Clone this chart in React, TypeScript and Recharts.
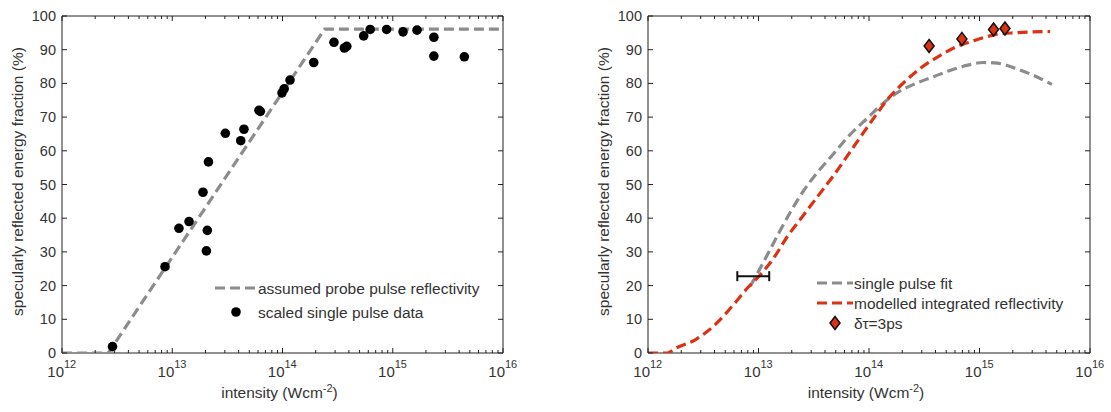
import React from 'react';
import { ComposedChart, Line, Scatter, XAxis, YAxis, ReferenceArea, ErrorBar, Legend } from 'recharts';

const FONT = '"Liberation Sans", Arial, sans-serif';
const TEXT = '#333';
const FRAME = '#222';
const GRAY = '#8c8c8c';
const RED = '#dc3214';

// ---------- left panel data ----------
const assumedX = [1e12, 2.63e12, 2.41e14, 1e16];
const assumedY = [0, 0, 96.1, 96.1];
const singleX = [2.87e12, 8.6e12, 1.15e13, 1.42e13, 1.9e13, 2.04e13, 2.08e13, 2.13e13, 3.03e13, 4.18e13, 4.47e13, 6.12e13, 6.3e13, 9.9e13, 1.035e14, 1.17e14, 1.92e14, 2.93e14, 3.64e14, 3.83e14, 5.45e14, 6.24e14, 8.8e14, 1.24e15, 1.66e15, 2.36e15, 2.36e15, 4.46e15];
const singleY = [1.9, 25.6, 37.0, 39.0, 47.7, 30.3, 36.4, 56.7, 65.2, 63.0, 66.4, 72.0, 71.7, 77.2, 78.4, 81.0, 86.2, 92.2, 90.5, 91.0, 94.1, 96.0, 96.0, 95.3, 95.8, 93.7, 88.1, 87.9];
const leftLegendOrder = ['assumed probe pulse reflectivity', 'scaled single pulse data'];

// ---------- right panel data ----------
const fitX = [8.43e12, 1.01e13, 1.22e13, 1.52e13, 1.96e13, 2.54e13, 3.4e13, 4.74e13, 6.61e13, 9.53e13, 1.33e14, 1.85e14, 2.67e14, 3.85e14, 5.56e14, 8.04e14, 1.08e15, 1.45e15, 2.09e15, 3.02e15, 4.52e15];
const fitY = [19.8, 24.5, 29.5, 35.5, 42.0, 48.0, 53.5, 59.0, 64.5, 69.5, 74.0, 77.5, 80.0, 82.0, 84.0, 85.5, 86.2, 86.0, 84.5, 82.5, 79.7];
const modelX = [1e12, 1.5e12, 1.8e12, 2.7e12, 4.05e12, 5.93e12, 7.94e12, 1.04e13, 1.36e13, 1.82e13, 2.5e13, 3.53e13, 4.74e13, 6.37e13, 8.53e13, 1.12e14, 1.54e14, 2.14e14, 2.98e14, 4.31e14, 6.21e14, 9.31e14, 1.36e15, 2.01e15, 4.36e15];
const modelY = [0, 0, 1.5, 4.0, 8.4, 14.3, 19.3, 23.2, 28.0, 34.5, 40.5, 47.0, 52.5, 58.5, 64.5, 70.0, 76.0, 80.7, 84.7, 88.1, 90.9, 92.9, 94.4, 95.0, 95.4];
const diamondX = [3.5e14, 6.93e14, 1.34e15, 1.7e15];
const diamondY = [91.1, 93.2, 96.0, 96.3];
const errCenterX = [8.98e12];
const errCenterY = [22.8];
const errLow = [2.55e12];
const errHigh = [3.52e12];
const rightLegendOrder = ['single pulse fit', 'modelled integrated reflectivity', 'δτ=3ps'];

// ---------- axes ----------
const xMajorTicks = [1e12, 1e13, 1e14, 1e15, 1e16];
const xMinorMultipliers = [2, 3, 4, 5, 6, 7, 8, 9];
const yTicks = [0, 10, 20, 30, 40, 50, 60, 70, 80, 90, 100];
const yLabel = 'specularly reflected energy fraction (%)';
const xLabelMain = 'intensity (Wcm';
const xLabelExp = '-2';

const xTicks: number[] = [];
xMajorTicks.forEach((m, i) => {
  xTicks.push(m);
  if (i < xMajorTicks.length - 1) xMinorMultipliers.forEach((k) => xTicks.push(m * k));
});

const zip = (xs: number[], ys: number[]) => xs.map((x, i) => ({ x, y: ys[i] }));
const assumedData = zip(assumedX, assumedY);
const singleData = zip(singleX, singleY);
const fitData = zip(fitX, fitY);
const modelData = zip(modelX, modelY);
const diamondData = zip(diamondX, diamondY);
const errData = errCenterX.map((x, i) => ({ x, y: errCenterY[i], ex: [errLow[i], errHigh[i]] }));

const PLOT_H = 337;
const LABEL_SIZE = 15.5;

const makeXTick = (plotH: number) => (props: any) => {
  const { x, y, payload } = props;
  const v = payload.value;
  const lg = Math.log10(v);
  const major = Math.abs(lg - Math.round(lg)) < 1e-6;
  const len = major ? 5 : 3;
  return (
    <g>
      <line x1={x} x2={x} y1={y} y2={y - len} stroke={FRAME} strokeWidth={1} />
      <line x1={x} x2={x} y1={y - plotH} y2={y - plotH + len} stroke={FRAME} strokeWidth={1} />
      {major && (
        <text x={x + 2} y={y + 24} textAnchor="end" fontSize={15} fill={TEXT} fontFamily={FONT}>10</text>
      )}
      {major && (
        <text x={x + 2} y={y + 15} textAnchor="start" fontSize={11} fill={TEXT} fontFamily={FONT}>{Math.round(lg)}</text>
      )}
    </g>
  );
};

const makeYTick = (plotW: number) => (props: any) => {
  const { x, y, payload } = props;
  return (
    <g>
      <line x1={x} x2={x + 5} y1={y} y2={y} stroke={FRAME} strokeWidth={1} />
      <line x1={x + plotW} x2={x + plotW - 5} y1={y} y2={y} stroke={FRAME} strokeWidth={1} />
      <text x={x - 6} y={y + 5} textAnchor="end" fontSize={14.5} fill={TEXT} fontFamily={FONT}>{payload.value}</text>
    </g>
  );
};

const YLabel = (props: any) => {
  const vb = props.viewBox;
  const cx = vb.x + vb.width - 45;
  const cy = vb.y + vb.height / 2 - 3;
  return (
    <text x={cx} y={cy} transform={`rotate(-90 ${cx} ${cy})`} textAnchor="middle" dominantBaseline="central" fontSize={LABEL_SIZE} fill={TEXT} fontFamily={FONT}>
      {yLabel}
    </text>
  );
};

const XLabel = (props: any) => {
  const vb = props.viewBox;
  const cx = vb.x + vb.width / 2 - 3;
  return (
    <text x={cx} y={vb.y + 45} textAnchor="middle" fontSize={LABEL_SIZE} fill={TEXT} fontFamily={FONT}>
      {xLabelMain}
      <tspan dy={-6} fontSize={11}>{xLabelExp}</tspan>
      <tspan dy={6}>)</tspan>
    </text>
  );
};

const Diamond = (props: any) => {
  const { cx, cy } = props;
  if (cx == null || cy == null) return <g />;
  return (
    <polygon
      points={`${cx},${cy - 6.5} ${cx + 5},${cy} ${cx},${cy + 6.5} ${cx - 5},${cy}`}
      fill={RED}
      stroke="#111"
      strokeWidth={1.5}
    />
  );
};

const Dot = (props: any) => {
  const { cx, cy } = props;
  if (cx == null || cy == null) return <g />;
  return <circle cx={cx} cy={cy} r={4.8} fill="#000" />;
};

const Invisible = () => <g />;

const makeLegend = (order: string[], rowH: number, iconW: number, w: number) => (props: any) => {
  const payload = (props.payload || [])
    .filter((p: any) => p.type !== 'none')
    .slice()
    .sort((a: any, b: any) => order.indexOf(a.value) - order.indexOf(b.value));
  return (
    <svg width={w} height={rowH * payload.length} style={{ display: 'block', overflow: 'visible' }}>
      {payload.map((p: any, i: number) => {
        const cy = rowH * i + rowH / 2;
        let icon: React.ReactNode = null;
        if (p.type === 'line') {
          icon = <line x1={3} x2={3 + iconW} y1={cy} y2={cy} stroke={p.color} strokeWidth={3.2} strokeDasharray="10 5" />;
        } else if (p.type === 'circle') {
          icon = <circle cx={3 + iconW / 2} cy={cy} r={4.8} fill="#000" />;
        } else if (p.type === 'diamond') {
          const cx = 3 + iconW / 2;
          icon = (
            <polygon points={`${cx},${cy - 6.5} ${cx + 5},${cy} ${cx},${cy + 6.5} ${cx - 5},${cy}`} fill={RED} stroke="#111" strokeWidth={1.5} />
          );
        }
        return (
          <g key={i}>
            {icon}
            <text x={3 + iconW + 1} y={cy + 5.5} fontSize={LABEL_SIZE} fill={TEXT} fontFamily={FONT}>{p.value}</text>
          </g>
        );
      })}
    </svg>
  );
};

export default function App() {
  const leftW = 560;
  const rightW = 551;
  const H = 412;
  const leftMargin = { top: 16, left: 0, right: 57, bottom: 0 };
  const rightMargin = { top: 16, left: 0, right: 21, bottom: 0 };
  const leftYW = 62;
  const rightYW = 88;
  const xAxisH = 59;
  const leftPlotW = leftW - leftYW - leftMargin.right;
  const rightPlotW = rightW - rightYW - rightMargin.right;

  const axisCommon = {
    type: 'number' as const,
    dataKey: 'x',
    scale: 'log' as const,
    domain: [1e12, 1e16],
    allowDataOverflow: true,
    ticks: xTicks,
    interval: 0 as const,
    tickSize: 0,
    tickMargin: 0,
    tickLine: false,
    axisLine: false,
    height: xAxisH,
  };
  const yCommon = {
    type: 'number' as const,
    domain: [0, 100],
    allowDataOverflow: true,
    ticks: yTicks,
    interval: 0 as const,
    tickSize: 0,
    tickMargin: 0,
    tickLine: false,
    axisLine: false,
  };

  return (
    <div style={{ position: 'absolute', left: 0, top: 0, width: 1111, height: 412, background: '#fff', fontFamily: FONT }}>
      <div style={{ position: 'absolute', left: 0, top: 0 }}>
        <ComposedChart width={leftW} height={H} margin={leftMargin}>
          <XAxis {...axisCommon} tick={makeXTick(PLOT_H)} label={{ content: XLabel } as any} />
          <YAxis {...yCommon} width={leftYW} tick={makeYTick(leftPlotW)} label={{ content: YLabel } as any} />
          <ReferenceArea x1={1e12} x2={1e16} y1={0} y2={100} fill="none" fillOpacity={0} stroke={FRAME} strokeWidth={1} ifOverflow="visible" />
          <Line data={assumedData} dataKey="y" name="assumed probe pulse reflectivity" type="linear" stroke={GRAY} strokeWidth={3.2} strokeDasharray="10 5" dot={false} activeDot={false} legendType="line" isAnimationActive={false} />
          <Scatter data={singleData} dataKey="y" name="scaled single pulse data" fill="#000" shape={Dot} legendType="circle" isAnimationActive={false} />
          <Legend
            layout="vertical"
            align="center"
            verticalAlign="middle"
            content={makeLegend(leftLegendOrder, 24, 42, 300)}
            wrapperStyle={{ left: 212, top: 276, width: 300, height: 48 }}
          />
        </ComposedChart>
      </div>
      <div style={{ position: 'absolute', left: 560, top: 0 }}>
        <ComposedChart width={rightW} height={H} margin={rightMargin}>
          <XAxis {...axisCommon} tick={makeXTick(PLOT_H)} label={{ content: XLabel } as any} />
          <YAxis {...yCommon} width={rightYW} tick={makeYTick(rightPlotW)} label={{ content: YLabel } as any} />
          <ReferenceArea x1={1e12} x2={1e16} y1={0} y2={100} fill="none" fillOpacity={0} stroke={FRAME} strokeWidth={1} ifOverflow="visible" />
          <Line data={fitData} dataKey="y" name="single pulse fit" type="monotone" stroke={GRAY} strokeWidth={3.2} strokeDasharray="10 5" dot={false} activeDot={false} legendType="line" isAnimationActive={false} />
          <Line data={modelData} dataKey="y" name="modelled integrated reflectivity" type="monotone" stroke={RED} strokeWidth={3.2} strokeDasharray="10 5" dot={false} activeDot={false} legendType="line" isAnimationActive={false} />
          <Scatter data={errData} dataKey="y" name="error" fill="#000" shape={Invisible} legendType="none" isAnimationActive={false}>
            <ErrorBar dataKey="ex" direction="x" width={5} stroke="#111" strokeWidth={2} isAnimationActive={false} />
          </Scatter>
          <Scatter data={diamondData} dataKey="y" name="δτ=3ps" fill={RED} shape={Diamond} legendType="diamond" isAnimationActive={false} />
          <Legend
            layout="vertical"
            align="center"
            verticalAlign="middle"
            content={makeLegend(rightLegendOrder, 20, 36, 300)}
            wrapperStyle={{ left: 254, top: 273, width: 300, height: 60 } as any}
          />
        </ComposedChart>
      </div>
    </div>
  );
}
